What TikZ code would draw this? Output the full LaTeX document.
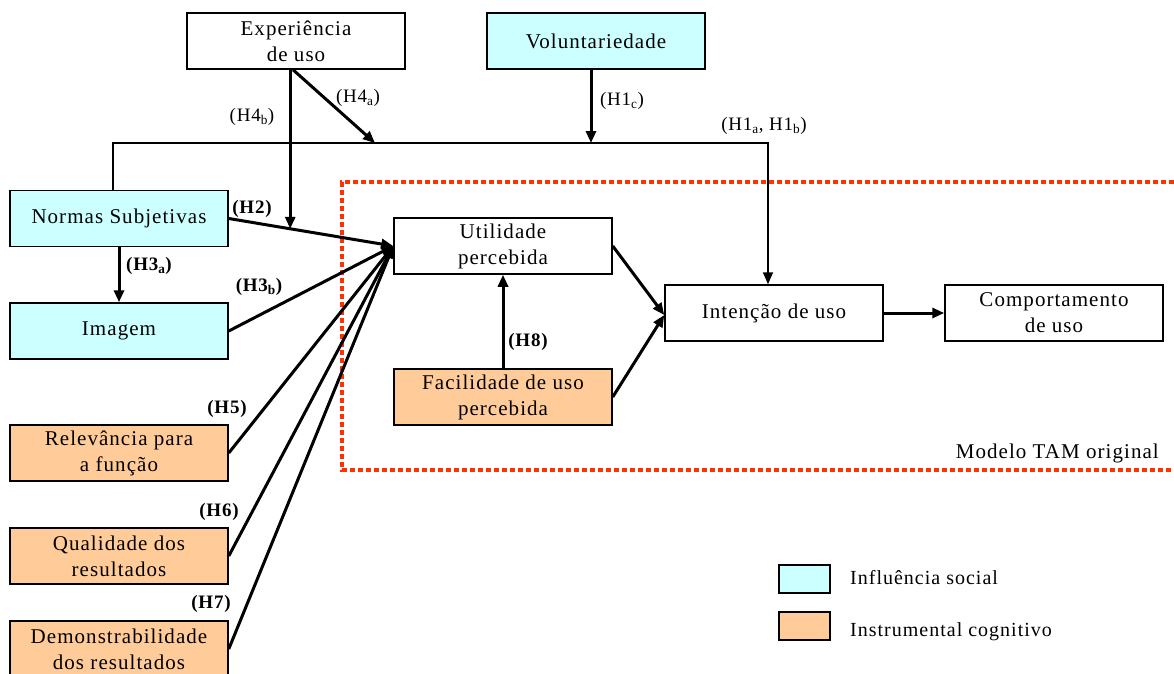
\documentclass[tikz,border=0pt]{standalone}
\usepackage{fontspec}
\setmainfont{Liberation Serif}
\newfontfamily\boxfont[LetterSpace=5]{Liberation Serif}
\newfontfamily\labfont[LetterSpace=4]{Liberation Serif}
\usetikzlibrary{arrows.meta,calc}
\definecolor{soc}{RGB}{204,255,255}
\definecolor{ins}{RGB}{255,204,153}
\definecolor{tamred}{RGB}{255,51,0}
\tikzset{
  box/.style={draw=black,line width=1.5pt,minimum width=218pt,minimum height=56pt,inner sep=0pt,
    align=center,font=\boxfont\fontsize{21}{26}\selectfont},
  socbox/.style={box,fill=soc},
  insbox/.style={box,fill=ins},
  thin/.style={line width=1.5pt},
  thick/.style={line width=3pt},
  arr/.style={-{Triangle[length=12pt,width=10pt]}},
  lab/.style={font=\labfont\fontsize{19}{22}\selectfont,inner sep=0pt},
  blab/.style={font=\labfont\bfseries\fontsize{19}{22}\selectfont,inner sep=0pt},
  txt/.style={font=\boxfont\fontsize{21}{26}\selectfont,inner sep=0pt},
  legtxt/.style={font=\boxfont\fontsize{20}{24}\selectfont,inner sep=0pt},
}
\begin{document}
\begin{tikzpicture}[x=1pt,y=-1pt]
\clip (0,0) rectangle (1174,673);
\fill[white] (0,0) rectangle (1174,673);
% red TAM frame
\draw[tamred,line width=4pt,dash pattern=on 5pt off 3pt] (1190,182) -- (342,182) -- (342,470) -- (1190,470);
\node[txt,anchor=east] (tam) at (1159,453) {Modelo TAM original};
% boxes
\node[box] (exp) at (296,41) {Experiência\\de uso};
\node[socbox] (vol) at (596,41) {Voluntariedade};
\node[socbox] (norm) at (119,218.5) {Normas Subjetivas};
\node[socbox] (img) at (119,331) {Imagem};
\node[insbox] (rel) at (119,453) {Relevância para\\a função};
\node[insbox] (qual) at (119,556) {Qualidade dos\\resultados};
\node[insbox] (dem) at (119,649) {Demonstrabilidade\\dos resultados};
\node[box,fill=white] (util) at (503,246) {Utilidade\\percebida};
\node[insbox] (fac) at (503,397) {Facilidade de uso\\percebida};
\node[box] (int) at (774,313) {Intenção de uso};
\node[box] (comp) at (1054,313) {Comportamento\\de uso};
% coordinates
\coordinate (tl) at (113,143);
\coordinate (tr) at (768,143);
\coordinate (h4a) at (375,143);
\coordinate (h2mid) at ($(norm.east)!0.3735!(util.west)$);
\coordinate (uin) at (util.west);
\coordinate (iin) at ([yshift=-2pt]int.west);
% top moderator line
\draw[thin,arr] (norm.north -| tl) -- (tl) -- (tr) -- (int.north -| tr);
\draw[thick,arr] (h2mid |- exp.south) -- (h2mid);
\draw[thick,arr] ([xshift=-3pt]exp.south) -- (h4a);
\draw[thick,arr] ([xshift=-5pt]vol.south) -- ([xshift=-5pt]vol.south |- tl);
% into utilidade
\draw[thick,arr] (norm.east) -- (uin);
\draw[thick,arr] (norm.south) -- (img.north);
\draw[thick,arr] (img.east) -- (uin);
\draw[thick,arr] (rel.east) -- (uin);
\draw[thick,arr] (qual.east) -- (uin);
\draw[thick,arr] (dem.east) -- (uin);
\draw[thick,arr] (fac.north) -- (util.south);
\draw[thick,arr] (util.east) -- (iin);
\draw[thick,arr] (fac.east) -- (iin);
\draw[thick,arr] (int.east) -- (comp.west);
% labels
\node[lab] (l4b) at (252,117) {(H4\textsubscript{b})};
\node[lab] (l4a) at (358,98) {(H4\textsubscript{a})};
\node[lab] (l1c) at (622,101) {(H1\textsubscript{c})};
\node[lab] (l1ab) at (764,126) {(H1\textsubscript{a}, H1\textsubscript{b})};
\node[blab] (l2) at (252,209) {(H2)};
\node[blab] (l3a) at (149,266) {(H3\textsubscript{a})};
\node[blab] (l3b) at (259,287) {(H3\textsubscript{b})};
\node[blab] (l5) at (227,409) {(H5)};
\node[blab] (l6) at (219,512) {(H6)};
\node[blab] (l7) at (211,604) {(H7)};
\node[blab] (l8) at (528,342) {(H8)};
% legend
\node[draw=black,line width=1.5pt,fill=soc,minimum width=51pt,minimum height=28pt,inner sep=0pt] (ls) at (804.5,579) {};
\node[draw=black,line width=1.5pt,fill=ins,minimum width=51pt,minimum height=28pt,inner sep=0pt] (li) at (804.5,626) {};
\node[legtxt,anchor=west] (lst) at (850,578) {Influência social};
\node[legtxt,anchor=west] (lit) at (850,632) {Instrumental cognitivo};
\end{tikzpicture}
\end{document}
